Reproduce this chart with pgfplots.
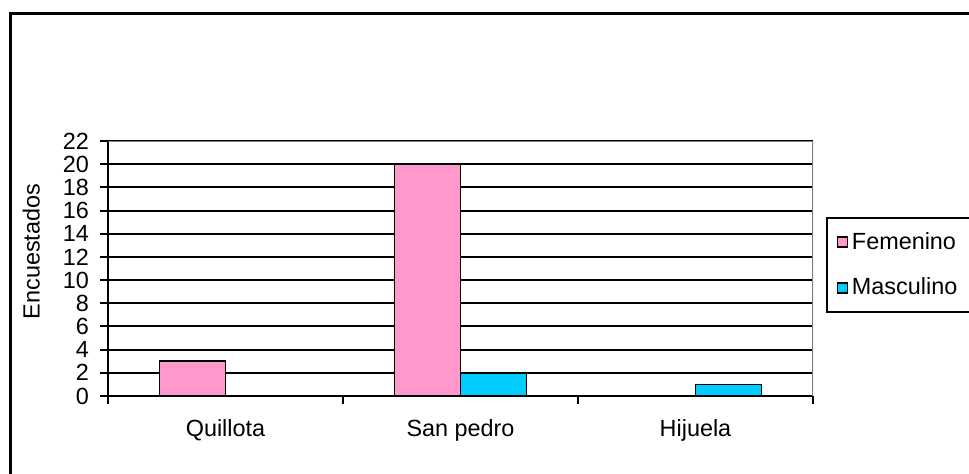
\documentclass[border=0pt]{standalone}
\usepackage{pgfplots}
\pgfplotsset{compat=1.18}
\usepackage{fontspec}
\setmainfont{Liberation Sans}
\definecolor{fem}{HTML}{FF99CC}
\definecolor{masc}{HTML}{00CCFF}
\pgfplotsset{sqlegend/.style={legend image code/.code={%
  \draw[##1,draw=black,line width=0.6pt] (0pt,-2.5pt) rectangle (5pt,2.5pt);}}}
\begin{document}
\begin{tikzpicture}
\useasboundingbox (0,0) rectangle (484.5pt,236.5pt);
% outer chart frame (right and bottom run off the page)
\draw[line width=1.5pt] (5pt,-10pt) -- (5pt,230pt) -- (500pt,230pt);
\begin{axis}[
  at={(54pt,38.5pt)}, anchor=south west,
  scale only axis,
  width=352.5pt, height=127.5pt,
  font=\fontsize{11.7}{13.5}\selectfont,
  /pgf/number format/assume math mode=true,
  ybar=0pt, bar width=33pt,
  xmin=-0.5, xmax=2.5, ymin=0, ymax=22,
  xtick={0,1,2}, xticklabels={Quillota,San pedro,Hijuela},
  minor xtick={-0.5,0.5,1.5,2.5},
  ytick={0,2,...,22},
  axis lines=left, axis line style={-, line width=1pt, black},
  tick align=outside,
  major tick length=4pt, minor tick length=4pt,
  tick style={line width=1pt, black},
  major x tick style={draw=none},
  xticklabel style={yshift=-4pt},
  yticklabel style={xshift=-2pt},
  ymajorgrids, major grid style={black, line width=1pt},
  ylabel={Encuestados},
  ylabel style={at={(axis description cs:-0.109,0.567)}, anchor=center},
  legend style={at={(1,0.5)}, anchor=west, xshift=6.5pt, yshift=1.75pt,
    draw=black, line width=0.75pt, inner xsep=5pt, inner ysep=5pt,
    row sep=9pt, font=\fontsize{11.7}{13.5}\selectfont},
  legend cell align=left,
]
\addplot[fill=fem, draw=black, line width=0.75pt, sqlegend]
  coordinates {(0,3) (1,20) (2,0)};
\addplot[fill=masc, draw=black, line width=0.75pt, sqlegend]
  coordinates {(0,0) (1,2) (2,1)};
\draw[gray, line width=1pt] (rel axis cs:0,1) -- (rel axis cs:1,1) -- (rel axis cs:1,0);
\legend{\makebox[58pt][l]{Femenino},\makebox[58pt][l]{Masculino}}
\end{axis}
\end{tikzpicture}
\end{document}
